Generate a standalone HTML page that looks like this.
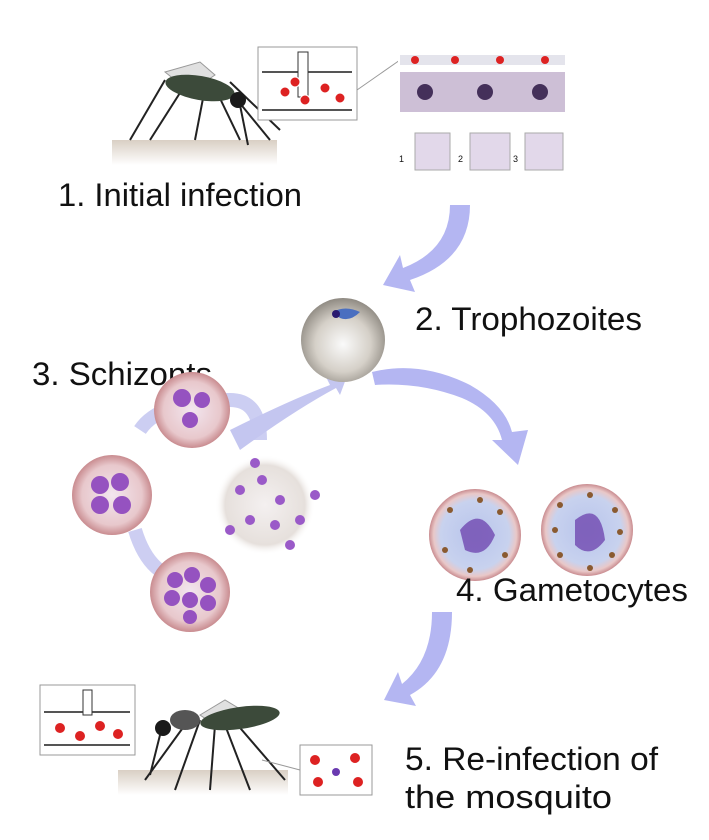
<!DOCTYPE html>
<html><head><meta charset="utf-8"><style>
html,body{margin:0;padding:0;background:#fff;}
svg{display:block;}
text{font-family:"Liberation Sans",sans-serif;fill:#111;font-size:32px;}
</style></head><body>
<svg width="709" height="840" viewBox="0 0 709 840" xmlns="http://www.w3.org/2000/svg">
<defs>
<radialGradient id="sph" cx="0.5" cy="0.55" r="0.55"><stop offset="0" stop-color="#fafafa"/><stop offset="0.6" stop-color="#d5d0c8"/><stop offset="1" stop-color="#8f8a82"/></radialGradient>
<radialGradient id="rbc" cx="0.5" cy="0.5" r="0.5"><stop offset="0" stop-color="#f2e6ef"/><stop offset="0.75" stop-color="#e8c8cc"/><stop offset="1" stop-color="#c98c90"/></radialGradient>
<radialGradient id="gam" cx="0.5" cy="0.5" r="0.5"><stop offset="0" stop-color="#b8c4ec"/><stop offset="0.75" stop-color="#c8d2ee"/><stop offset="0.9" stop-color="#e9c8c8"/><stop offset="1" stop-color="#c98c90"/></radialGradient>
<radialGradient id="mid" cx="0.5" cy="0.5" r="0.5"><stop offset="0" stop-color="#f4f0f0"/><stop offset="0.8" stop-color="#e6e0dc"/><stop offset="1" stop-color="#fff" stop-opacity="0"/></radialGradient>
<linearGradient id="skin" x1="0" y1="0" x2="0" y2="1"><stop offset="0" stop-color="#d9cfc4"/><stop offset="1" stop-color="#fff"/></linearGradient>
</defs>

<rect x="112" y="140" width="165" height="25" fill="url(#skin)"/>
<g stroke="#222" stroke-width="2" fill="none">
<path d="M165 80 L130 140"/><path d="M185 85 L150 140"/><path d="M205 88 L195 140"/><path d="M215 88 L240 140"/><path d="M225 85 L270 140"/><path d="M230 82 L280 130"/>
<path d="M240 105 L248 145"/>
</g>
<path d="M165 72 L200 62 L215 75 L190 92 Z" fill="#e0e0e0" stroke="#999"/>
<ellipse cx="200" cy="88" rx="35" ry="12" fill="#3c4a3a" transform="rotate(10 200 88)"/>
<circle cx="238" cy="100" r="8" fill="#1a1a1a"/>
<rect x="258" y="47" width="99" height="73" fill="#fff" stroke="#999"/>
<line x1="262" y1="72" x2="352" y2="72" stroke="#555" stroke-width="2"/>
<line x1="262" y1="110" x2="352" y2="110" stroke="#555" stroke-width="2"/>
<rect x="298" y="52" width="10" height="45" fill="#fff" stroke="#333"/>
<g fill="#d22" stroke="#fff" stroke-width="1">
<circle cx="285" cy="92" r="5"/><circle cx="305" cy="100" r="5"/><circle cx="325" cy="88" r="5"/><circle cx="340" cy="98" r="5"/><circle cx="295" cy="82" r="5"/>
</g>
<line x1="357" y1="90" x2="400" y2="60" stroke="#999"/>
<rect x="398" y="52" width="170" height="78" fill="#fff"/>
<rect x="400" y="55" width="165" height="10" fill="#e4e4ec"/>
<rect x="400" y="72" width="165" height="40" fill="#cdbfd6"/>
<circle cx="425" cy="92" r="8" fill="#44305a"/><circle cx="485" cy="92" r="8" fill="#44305a"/><circle cx="540" cy="92" r="8" fill="#44305a"/>
<g fill="#d22"><circle cx="415" cy="60" r="4"/><circle cx="455" cy="60" r="4"/><circle cx="500" cy="60" r="4"/><circle cx="545" cy="60" r="4"/></g>
<rect x="415" y="133" width="35" height="37" fill="#e2d8ea" stroke="#aaa"/>
<rect x="470" y="133" width="40" height="37" fill="#e2d8ea" stroke="#aaa"/>
<rect x="525" y="133" width="38" height="37" fill="#e2d8ea" stroke="#aaa"/>
<text x="399" y="162" style="font-size:9px">1</text><text x="458" y="162" style="font-size:9px">2</text><text x="513" y="162" style="font-size:9px">3</text>

<text x="58" y="206" textLength="244" lengthAdjust="spacingAndGlyphs">1. Initial infection</text>

<g fill="#b4b6f2">
<path d="M450 205 L470 205 Q470 260 410 280 L415 292 L383 285 L400 255 L403 268 Q450 250 450 205 Z"/>
<path d="M372 372 Q420 360 470 385 Q505 405 512 432 L528 430 L518 465 L492 440 L502 440 Q495 412 462 398 Q420 382 375 385 Z"/>
<path d="M432 612 L452 612 Q452 672 410 695 L416 706 L384 700 L398 672 L402 684 Q432 660 432 612 Z"/>
</g>
<g fill="none" stroke="#c4c6f0" stroke-width="14" opacity="0.85">
<path d="M140 430 Q160 400 230 400"/>
<path d="M135 530 Q150 580 190 580"/>
<path d="M230 400 Q260 400 260 440"/>
</g>
<path d="M230 430 Q290 400 330 385 L325 375 L350 368 L340 395 L336 388 Q295 410 240 450 Z" fill="#c4c6f0"/>

<circle cx="343" cy="340" r="42" fill="url(#sph)"/>
<path d="M333 312 Q345 305 360 312 Q350 322 340 318 Z" fill="#4a6fc0"/>
<circle cx="336" cy="314" r="4" fill="#2a1a70"/>

<text x="415" y="330" textLength="227" lengthAdjust="spacingAndGlyphs">2. Trophozoites</text>
<text x="32" y="385" textLength="180" lengthAdjust="spacingAndGlyphs">3. Schizonts</text>

<circle cx="265" cy="505" r="50" fill="url(#mid)"/>
<g fill="#9a5ac8"><circle cx="240" cy="490" r="5"/><circle cx="262" cy="480" r="5"/><circle cx="280" cy="500" r="5"/><circle cx="250" cy="520" r="5"/><circle cx="275" cy="525" r="5"/><circle cx="230" cy="530" r="5"/><circle cx="300" cy="520" r="5"/><circle cx="315" cy="495" r="5"/><circle cx="290" cy="545" r="5"/><circle cx="255" cy="463" r="5"/></g>
<circle cx="192" cy="410" r="38" fill="url(#rbc)"/>
<g fill="#9552c0"><circle cx="182" cy="398" r="9"/><circle cx="202" cy="400" r="8"/><circle cx="190" cy="420" r="8"/></g>
<circle cx="112" cy="495" r="40" fill="url(#rbc)"/>
<g fill="#9552c0"><circle cx="100" cy="485" r="9"/><circle cx="120" cy="482" r="9"/><circle cx="100" cy="505" r="9"/><circle cx="122" cy="505" r="9"/></g>
<circle cx="190" cy="592" r="40" fill="url(#rbc)"/>
<g fill="#9552c0"><circle cx="175" cy="580" r="8"/><circle cx="192" cy="575" r="8"/><circle cx="208" cy="585" r="8"/><circle cx="172" cy="598" r="8"/><circle cx="190" cy="600" r="8"/><circle cx="208" cy="603" r="8"/><circle cx="190" cy="617" r="7"/></g>

<circle cx="475" cy="535" r="46" fill="url(#gam)"/>
<path d="M460 530 Q480 505 495 535 Q485 560 465 550 Z" fill="#7048b0" opacity="0.8"/>
<circle cx="587" cy="530" r="46" fill="url(#gam)"/>
<path d="M575 520 Q600 500 605 540 Q590 560 575 545 Z" fill="#7048b0" opacity="0.8"/>
<g fill="#8a5a30">
<circle cx="450" cy="510" r="3"/><circle cx="500" cy="512" r="3"/><circle cx="445" cy="550" r="3"/><circle cx="505" cy="555" r="3"/><circle cx="470" cy="570" r="3"/><circle cx="480" cy="500" r="3"/>
<circle cx="560" cy="505" r="3"/><circle cx="615" cy="510" r="3"/><circle cx="560" cy="555" r="3"/><circle cx="612" cy="555" r="3"/><circle cx="590" cy="568" r="3"/><circle cx="590" cy="495" r="3"/><circle cx="620" cy="532" r="3"/><circle cx="555" cy="530" r="3"/>
</g>

<text x="456" y="601" textLength="232" lengthAdjust="spacingAndGlyphs">4. Gametocytes</text>

<rect x="118" y="770" width="170" height="25" fill="url(#skin)"/>
<g stroke="#222" stroke-width="2" fill="none">
<path d="M200 720 L175 790"/><path d="M215 725 L210 790"/><path d="M225 725 L250 790"/><path d="M235 722 L285 780"/><path d="M190 718 L145 780"/><path d="M160 735 L150 775"/>
</g>
<path d="M200 715 L225 700 L245 712 L215 725 Z" fill="#e0e0e0" stroke="#999"/>
<ellipse cx="240" cy="718" rx="40" ry="11" fill="#3c4a3a" transform="rotate(-8 240 718)"/>
<ellipse cx="185" cy="720" rx="15" ry="10" fill="#555"/>
<circle cx="163" cy="728" r="8" fill="#1a1a1a"/>
<rect x="40" y="685" width="95" height="70" fill="#fff" stroke="#999"/>
<line x1="44" y1="712" x2="130" y2="712" stroke="#555" stroke-width="2"/>
<line x1="44" y1="745" x2="130" y2="745" stroke="#555" stroke-width="2"/>
<rect x="83" y="690" width="9" height="25" fill="#fff" stroke="#333"/>
<g fill="#d22"><circle cx="60" cy="728" r="5"/><circle cx="80" cy="736" r="5"/><circle cx="100" cy="726" r="5"/><circle cx="118" cy="734" r="5"/></g>
<rect x="300" y="745" width="72" height="50" fill="#fff" stroke="#999"/>
<line x1="262" y1="760" x2="300" y2="770" stroke="#999"/>
<g fill="#d22"><circle cx="315" cy="760" r="5"/><circle cx="355" cy="758" r="5"/><circle cx="318" cy="782" r="5"/><circle cx="358" cy="782" r="5"/></g>
<circle cx="336" cy="772" r="4" fill="#6a3ab0"/>

<text x="405" y="770" textLength="253" lengthAdjust="spacingAndGlyphs">5. Re-infection of</text>
<text x="405" y="808" textLength="207" lengthAdjust="spacingAndGlyphs">the mosquito</text>
</svg>
</body></html>
